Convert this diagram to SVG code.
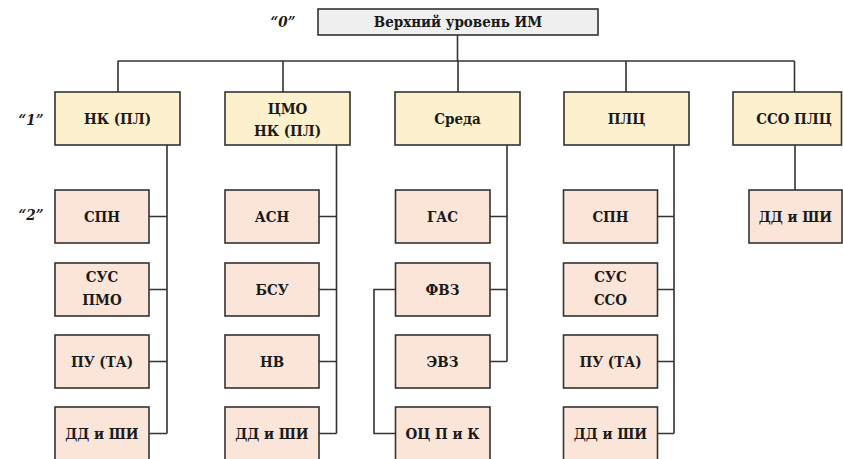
<svg xmlns="http://www.w3.org/2000/svg" width="843" height="459" viewBox="0 0 843 459">
  <style>
    text { font-family: "DejaVu Serif Condensed", "DejaVu Serif", "Liberation Serif", serif; font-stretch: condensed; font-weight: bold; font-size: 15px; fill: #1a1a1a; text-anchor: middle; dominant-baseline: central; }
    .lvl { font-style: italic; }
    .box { stroke: #333; stroke-width: 1.6; }
    .top { fill: #efefef; }
    .l1 { fill: #fdf0cd; }
    .l2 { fill: #fbe5d8; }
    .wire { fill: none; stroke: #333; stroke-width: 1.6; }
  </style>

  <!-- level labels -->
  <text class="lvl" x="283" y="22">“0”</text>
  <text class="lvl" x="31" y="120">“1”</text>
  <text class="lvl" x="31" y="215">“2”</text>

  <!-- connectors -->
  <g id="connectors">
    <path class="wire" d="M457.5 35 V61 M117.5 61 H794.5 M118 61 V92 M283 61 V92 M458 61 V92 M626 61 V92 M794.5 61 V92"/>
    <!-- column 1 -->
    <path class="wire" d="M167 145 V433.5 M149 216.5 H167 M149 289.5 H167 M149 361.5 H167 M149 433.5 H167"/>
    <!-- column 2 -->
    <path class="wire" d="M336.5 145 V433.5 M319 216.5 H336.5 M319 289.5 H336.5 M319 361.5 H336.5 M319 433.5 H336.5"/>
    <!-- column 3 -->
    <path class="wire" d="M507 145 V361.5 M490 216.5 H507 M490 289.5 H507 M490 361.5 H507"/>
    <path class="wire" d="M395.5 289.5 H374 V433.5 H395.5"/>
    <!-- column 4 -->
    <path class="wire" d="M674 145 V433.5 M657.5 216.5 H674 M657.5 289.5 H674 M657.5 361.5 H674 M657.5 433.5 H674"/>
    <!-- column 5 -->
    <path class="wire" d="M795 145 V190"/>
  </g>

  <!-- level 0 -->
  <g id="n-top">
    <rect class="box top" x="318" y="9" width="280" height="26"/>
    <text x="458" y="22">Верхний уровень ИМ</text>
  </g>

  <!-- level 1 -->
  <g id="n-nk">
    <rect class="box l1" x="55" y="92" width="125" height="53"/>
    <text x="117.5" y="119">НК (ПЛ)</text>
  </g>
  <g id="n-cmo">
    <rect class="box l1" x="225" y="92" width="125" height="53"/>
    <text x="287.5" y="108.5">ЦМО</text>
    <text x="287.5" y="130.5">НК (ПЛ)</text>
  </g>
  <g id="n-sreda">
    <rect class="box l1" x="395" y="92" width="125" height="53"/>
    <text x="457.5" y="119">Среда</text>
  </g>
  <g id="n-plc">
    <rect class="box l1" x="564" y="92" width="125" height="53"/>
    <text x="626.5" y="119">ПЛЦ</text>
  </g>
  <g id="n-sso-plc">
    <rect class="box l1" x="733" y="92" width="108.5" height="53"/>
    <text x="794" y="119">ССО ПЛЦ</text>
  </g>

  <!-- level 2, column 1 -->
  <g id="n-spn-1">
    <rect class="box l2" x="55" y="190" width="94" height="53"/>
    <text x="102" y="216.5">СПН</text>
  </g>
  <g id="n-sus-pmo">
    <rect class="box l2" x="55" y="263" width="94" height="53"/>
    <text x="102" y="277">СУС</text>
    <text x="102" y="300">ПМО</text>
  </g>
  <g id="n-pu-1">
    <rect class="box l2" x="55" y="335" width="94" height="53"/>
    <text x="102" y="361.5">ПУ (ТА)</text>
  </g>
  <g id="n-dd-1">
    <rect class="box l2" x="55" y="407" width="94" height="53"/>
    <text x="102" y="433.5">ДД и ШИ</text>
  </g>

  <!-- level 2, column 2 -->
  <g id="n-asn">
    <rect class="box l2" x="225" y="190" width="94" height="53"/>
    <text x="272" y="216.5">АСН</text>
  </g>
  <g id="n-bsu">
    <rect class="box l2" x="225" y="263" width="94" height="53"/>
    <text x="272" y="289.5">БСУ</text>
  </g>
  <g id="n-nv">
    <rect class="box l2" x="225" y="335" width="94" height="53"/>
    <text x="272" y="361.5">НВ</text>
  </g>
  <g id="n-dd-2">
    <rect class="box l2" x="225" y="407" width="94" height="53"/>
    <text x="272" y="433.5">ДД и ШИ</text>
  </g>

  <!-- level 2, column 3 -->
  <g id="n-gas">
    <rect class="box l2" x="395.5" y="190" width="94.5" height="53"/>
    <text x="442.5" y="216.5">ГАС</text>
  </g>
  <g id="n-fvz">
    <rect class="box l2" x="395.5" y="263" width="94.5" height="53"/>
    <text x="442.5" y="289.5">ФВЗ</text>
  </g>
  <g id="n-evz">
    <rect class="box l2" x="395.5" y="335" width="94.5" height="53"/>
    <text x="442.5" y="361.5">ЭВЗ</text>
  </g>
  <g id="n-oc">
    <rect class="box l2" x="395.5" y="407" width="94.5" height="53"/>
    <text x="442.5" y="433.5">ОЦ П и К</text>
  </g>

  <!-- level 2, column 4 -->
  <g id="n-spn-4">
    <rect class="box l2" x="563.5" y="190" width="94" height="53"/>
    <text x="610.5" y="216.5">СПН</text>
  </g>
  <g id="n-sus-sso">
    <rect class="box l2" x="563.5" y="263" width="94" height="53"/>
    <text x="610.5" y="277">СУС</text>
    <text x="610.5" y="300">ССО</text>
  </g>
  <g id="n-pu-4">
    <rect class="box l2" x="563.5" y="335" width="94" height="53"/>
    <text x="610.5" y="361.5">ПУ (ТА)</text>
  </g>
  <g id="n-dd-4">
    <rect class="box l2" x="563.5" y="407" width="94" height="53"/>
    <text x="610.5" y="433.5">ДД и ШИ</text>
  </g>

  <!-- level 2, column 5 -->
  <g id="n-dd-5">
    <rect class="box l2" x="749" y="190" width="93" height="53"/>
    <text x="795.5" y="216.5">ДД и ШИ</text>
  </g>
</svg>
